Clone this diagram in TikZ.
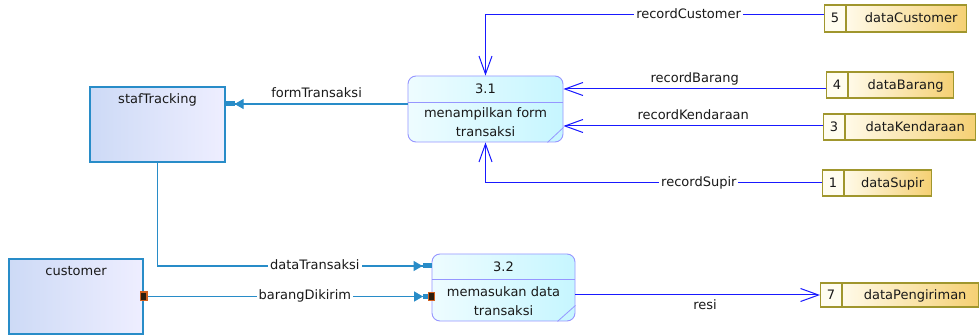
\documentclass[tikz,border=0pt]{standalone}
\usepackage{fontspec}
\setmainfont{DejaVu Sans}
\usetikzlibrary{arrows.meta,calc}
\definecolor{txt}{RGB}{25,25,25}
\definecolor{entline}{RGB}{40,140,200}
\definecolor{entA}{RGB}{205,218,246}
\definecolor{entB}{RGB}{238,238,255}
\definecolor{procline}{RGB}{150,150,255}
\definecolor{procA}{RGB}{238,252,255}
\definecolor{procB}{RGB}{198,246,255}
\definecolor{flowblue}{RGB}{25,25,255}
\definecolor{storeline}{RGB}{160,150,45}
\definecolor{storeA}{RGB}{255,250,232}
\definecolor{storeB}{RGB}{245,208,115}
\definecolor{numfill}{RGB}{255,253,240}
\definecolor{markfill}{RGB}{45,30,15}
\definecolor{markedge}{RGB}{210,95,30}
\begin{document}
\begin{tikzpicture}[x=1pt,y=-1pt,
  font=\fontsize{13}{15}\selectfont,
  every node/.style={text=txt},
  entity/.style={draw=entline, line width=1.2pt, left color=entA, right color=entB, inner sep=0pt},
  proc/.style={draw=procline, line width=0.9pt, rounded corners=8pt, left color=procA, right color=procB, inner sep=0pt},
  numcell/.style={draw=storeline, line width=1.1pt, fill=numfill, inner sep=0pt, minimum width=21pt, text height=9.5pt, text depth=0.5pt},
  storecell/.style={draw=storeline, line width=1.1pt, left color=storeA, right color=storeB, inner sep=0pt, text height=9.5pt, text depth=0.5pt, execute at begin node={\hspace*{9pt}}},
  lbl/.style={inner sep=2pt, text height=9.5pt, text depth=2.5pt},
  onlabel/.style={lbl, fill=white},
  flow/.style={draw=flowblue, line width=1pt, -{Straight Barb[length=18pt,width=13pt,line width=1pt]}},
  eflow/.style={draw=entline, line width=1.2pt, -{Triangle[length=9pt,width=10pt,sep=0pt]Rectangle[length=9pt,width=5pt,sep=0pt]}},
  eflowm/.style={draw=entline, line width=1.2pt,
    {Rectangle[length=8pt,width=10pt,fill=markfill,color=markedge]}-{Triangle[length=9pt,width=10pt,sep=0pt]Rectangle[length=5pt,width=5pt,sep=0pt]Rectangle[length=7pt,width=9pt,fill=markfill,color=markedge,sep=0pt]},
    shorten <=-4pt, shorten >=-3.5pt}
]
\fill[white] (0,0) rectangle (979,336);
\useasboundingbox (0,0) rectangle (979,336);

% external entities
\node[entity, minimum width=135pt, minimum height=75pt] (staf) at (157.5,124.5) {};
\node[anchor=base] (stafT) at ($(staf.north)+(0,17)$) {stafTracking};
\node[entity, minimum width=134pt, minimum height=75pt] (cust) at (76,296.5) {};
\node[anchor=base] (custT) at ($(cust.north)+(0,17)$) {customer};

% processes
\node[proc, minimum width=155pt, minimum height=66pt] (p31) at (485.5,109) {};
\draw[procline, line width=0.9pt] ($(p31.north west)+(0,27)$) -- ($(p31.north east)+(0,27)$);
\draw[procline, line width=0.8pt] ($(p31.south east)+(-16,0)$) -- ($(p31.south east)+(0,-15)$);
\node[anchor=base] (p31id) at ($(p31.north)+(0,18)$) {3.1};
\node[anchor=base] (p31a) at ($(p31.north)+(0,42)$) {menampilkan form};
\node[anchor=base] (p31b) at ($(p31.north)+(0,61)$) {transaksi};

\node[proc, minimum width=143pt, minimum height=67pt] (p32) at (503.5,287.5) {};
\draw[procline, line width=0.9pt] ($(p32.north west)+(0,26)$) -- ($(p32.north east)+(0,26)$);
\draw[procline, line width=0.8pt] ($(p32.south east)+(-18,0)$) -- ($(p32.south east)+(0,-16)$);
\node[anchor=base] (p32id) at ($(p32.north)+(0,17.5)$) {3.2};
\node[anchor=base] (p32a) at ($(p32.north)+(0,42.5)$) {memasukan data};
\node[anchor=base] (p32b) at ($(p32.north)+(0,62)$) {transaksi};

% data stores
\node[numcell, anchor=west, minimum height=27pt] (n5) at (824,18.5) {5};
\node[storecell, anchor=west, minimum height=27pt, minimum width=120pt] (s5) at (n5.east) {dataCustomer};
\node[numcell, anchor=west, minimum height=26pt] (n4) at (826,85) {4};
\node[storecell, anchor=west, minimum height=26pt, minimum width=105pt] (s4) at (n4.east) {dataBarang};
\node[numcell, anchor=west, minimum height=26pt] (n3) at (823,127) {3};
\node[storecell, anchor=west, minimum height=26pt, minimum width=130pt] (s3) at (n3.east) {dataKendaraan};
\node[numcell, anchor=west, minimum height=26pt] (n1) at (822,183) {1};
\node[storecell, anchor=west, minimum height=26pt, minimum width=87pt] (s1) at (n1.east) {dataSupir};
\node[numcell, anchor=west, minimum height=24pt] (n7) at (820,295) {7};
\node[storecell, anchor=west, minimum height=24pt, minimum width=136pt] (s7) at (n7.east) {dataPengiriman};

% connectors
\coordinate (c5) at ([yshift=3.5pt]n5.west);
\draw[flow] (c5) -| (p31.north) node[pos=0.2, onlabel] {recordCustomer};
\coordinate (c4) at ([yshift=-4pt]n4.west);
\draw[flow] (c4) -- (c4 -| p31.east) node[midway, above=1.5pt, lbl] {recordBarang};
\coordinate (c3) at ([yshift=1pt]n3.west);
\draw[flow] (c3) -- (c3 -| p31.east) node[midway, above=1.5pt, lbl] {recordKendaraan};
\draw[flow] (n1.west) -| (p31.south) node[pos=0.183, onlabel] {recordSupir};

\coordinate (f1) at ([yshift=5pt]p31.west);
\draw[eflow] (f1) -- (f1 -| staf.east) node[midway, above=1.5pt, lbl] {formTransaksi};
\coordinate (f2) at ([yshift=21.5pt]p32.west);
\draw[eflow] (staf.south) |- (f2) node[pos=0.787, onlabel] {dataTransaksi};
\draw[eflowm] (cust.east) -- (cust.east -| p32.west) node[pos=0.56, onlabel] {barangDikirim};
\draw[flow] (n7.west -| p32.east) -- (n7.west) node[pos=0.53, below=3pt, lbl] {resi};
\end{tikzpicture}
\end{document}
